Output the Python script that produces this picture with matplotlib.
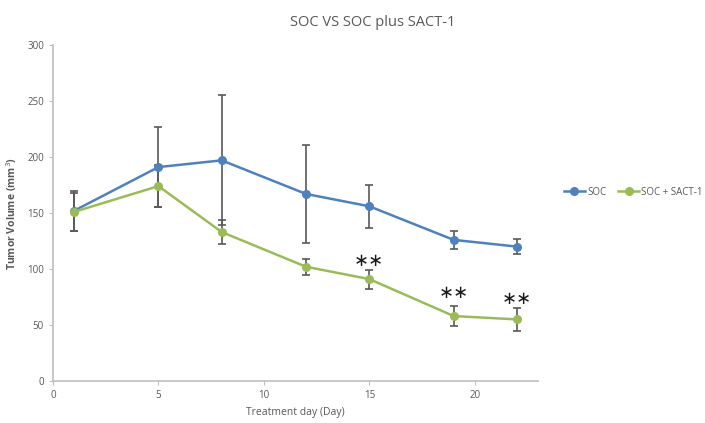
import numpy as np
import matplotlib
matplotlib.use("Agg")
import matplotlib.pyplot as plt
from matplotlib.lines import Line2D

# data
days = [1, 5, 8, 12, 15, 19, 22]
soc = [152, 191, 197, 167, 156, 126, 120]
soc_err = [18, 36, 58, 44, 19, 8, 7]
sact = [151, 174, 133, 102, 91, 58, 55]
sact_err = [17, 19, 11, 7, 8.5, 9, 10]
star_days = [15, 19, 22]
star_y = [107, 79, 73]

col_soc = "#4F81BD"
col_sact = "#9BBB59"
col_err = "#595959"
col_axis = "#BFBFBF"
col_text = "#595959"

plt.rcParams["font.family"] = ["Open Sans", "DejaVu Sans"]

fig = plt.figure(figsize=(7.05, 4.23), dpi=100)
ax = fig.add_axes([53 / 705, 1 - 381 / 423, (538 - 53) / 705, (381 - 45) / 423])

ax.errorbar(days, soc, yerr=soc_err, color=col_soc, marker="o", markersize=5.5,
            linewidth=1.8, ecolor=col_err, elinewidth=1.2, capsize=3, capthick=1.2,
            zorder=3)
ax.errorbar(days, sact, yerr=sact_err, color=col_sact, marker="o", markersize=5.5,
            linewidth=1.8, ecolor=col_err, elinewidth=1.2, capsize=3, capthick=1.2,
            zorder=3)

for d, yv in zip(star_days, star_y):
    ax.text(d, yv, "\u2217\u2217", ha="center", va="center", fontsize=13,
            color="#1a1a1a", family="DejaVu Sans")

ax.set_xlim(0, 23)
ax.set_ylim(0, 300)
ax.set_xticks([0, 5, 10, 15, 20])
ax.set_yticks(np.arange(0, 301, 50))

for s in ("top", "right"):
    ax.spines[s].set_visible(False)
for s in ("left", "bottom"):
    ax.spines[s].set_color(col_axis)
    ax.spines[s].set_linewidth(1.2)
ax.tick_params(axis="both", colors=col_axis, labelcolor=col_text, labelsize=7,
               length=3, width=0.8)

ax.set_xlabel("Treatment day (Day)", fontsize=7.5, color=col_text, labelpad=4)
ax.set_ylabel("Tumor Volume (mm$^3$)", fontsize=7.5, color=col_text,
              fontweight="bold", labelpad=6)

fig.suptitle("SOC VS SOC plus SACT-1", x=0.528, y=0.965,
             fontsize=10.5, color=col_text)

handles = [
    Line2D([], [], color=col_soc, marker="o", markersize=5.5, linewidth=1.8),
    Line2D([], [], color=col_sact, marker="o", markersize=5.5, linewidth=1.8),
]
fig.legend(handles, ["SOC", "SOC + SACT-1"], loc="center left",
           bbox_to_anchor=(555 / 705, 1 - 192 / 423),
           ncol=2, frameon=False, fontsize=7, labelcolor=col_text,
           handlelength=2.2, handletextpad=0.2, columnspacing=1.2)

fig.savefig("out.png", dpi=100)
